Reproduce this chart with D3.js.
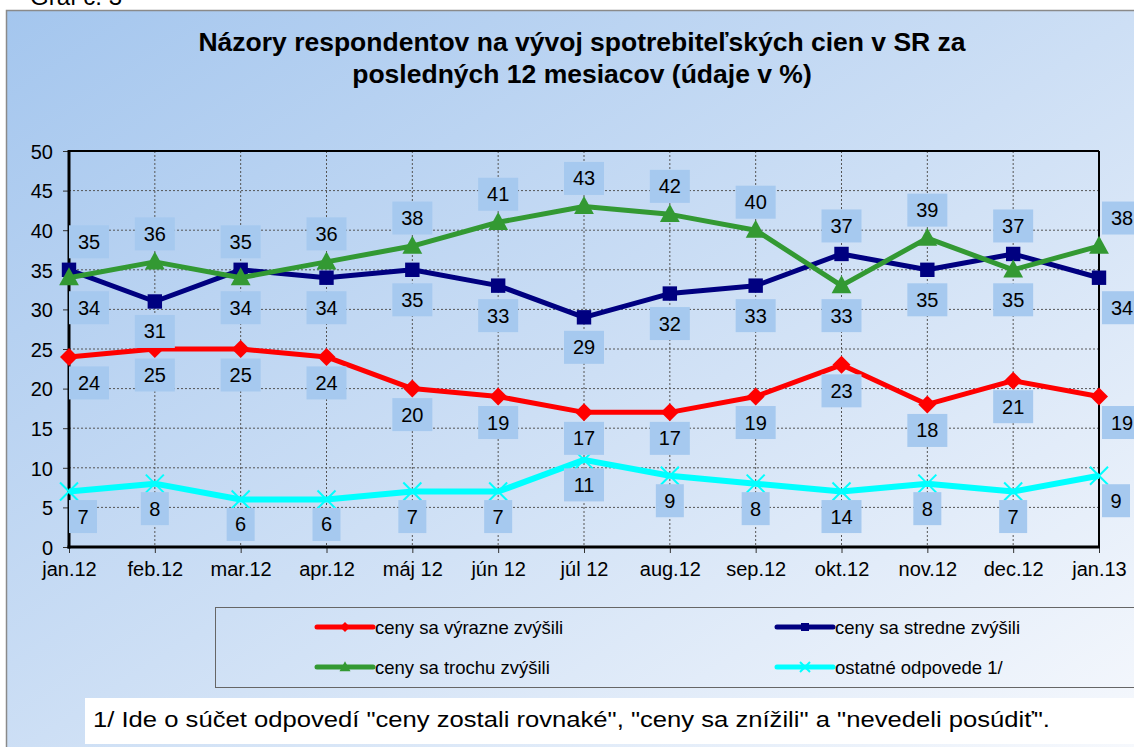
<!DOCTYPE html>
<html>
<head>
<meta charset="utf-8">
<script src="https://cdn.jsdelivr.net/npm/d3@7"></script>
<style>
  body { margin: 0; background: #fff; }
  svg { display: block; font-family: Arial, "Liberation Sans", sans-serif; }
</style>
</head>
<body>
<svg width="1134" height="747"></svg>
<script>
// mesiace na osi x
var months = ['jan.12', 'feb.12', 'mar.12', 'apr.12', 'máj 12', 'jún 12', 'júl 12',
              'aug.12', 'sep.12', 'okt.12', 'nov.12', 'dec.12', 'jan.13'];

// hodnoty bodov (podla polohy znaciek v grafe)
var vyrazne = [24, 25, 25, 24, 20, 19, 17, 17, 19, 23, 18, 21, 19];
var stredne = [35, 31, 35, 34, 35, 33, 29, 32, 33, 37, 35, 37, 34];
var trochu  = [34, 36, 34, 36, 38, 41, 43, 42, 40, 33, 39, 35, 38];
var ostatne = [7, 8, 6, 6, 7, 7, 11, 9, 8, 7, 8, 7, 9];

// popisky udajov tak, ako su v grafe
var vyrazneLabels = [24, 25, 25, 24, 20, 19, 17, 17, 19, 23, 18, 21, 19];
var strednePopisy = [34, 31, 34, 34, 35, 33, 29, 32, 33, 33, 35, 35, 34];
var trochuPopisy  = [35, 36, 35, 36, 38, 41, 43, 42, 40, 37, 39, 37, 38];
var ostatnePopisy = [7, 8, 6, 6, 7, 7, 11, 9, 8, 14, 8, 7, 9];

var yTicks = [0, 5, 10, 15, 20, 25, 30, 35, 40, 45, 50];

var seriesNames = ['ceny sa výrazne zvýšili', 'ceny sa stredne zvýšili',
                   'ceny sa trochu zvýšili', 'ostatné odpovede 1/'];

const svg = d3.select('svg');

// pozadie s prechodom
var defs = svg.append('defs');
var grad = defs.append('linearGradient')
  .attr('id', 'bg').attr('x1', '0%').attr('y1', '0%').attr('x2', '100%').attr('y2', '100%');
grad.append('stop').attr('offset', '0%').attr('stop-color', '#a4c6ee');
grad.append('stop').attr('offset', '50%').attr('stop-color', '#cddff5');
grad.append('stop').attr('offset', '100%').attr('stop-color', '#f7f9fd');

svg.append('text')
  .attr('x', 30).attr('y', 5)
  .style('font-size', '24px')
  .text('Graf č. 3');

svg.append('rect')
  .attr('x', 6.5).attr('y', 10.5)
  .attr('width', 1140).attr('height', 750)
  .attr('fill', 'url(#bg)')
  .attr('stroke', '#8a8a8a')
  .attr('stroke-width', 1.5);

// nadpis
var title = svg.append('text')
  .attr('text-anchor', 'middle')
  .style('font-size', '26.5px')
  .style('font-weight', 'bold');
title.append('tspan').attr('x', 582).attr('y', 51)
  .text('Názory respondentov na vývoj spotrebiteľských cien v SR za');
title.append('tspan').attr('x', 582).attr('y', 83)
  .text('posledných 12 mesiacov (údaje v %)');

var plotLeft = 69, plotRight = 1099, plotTop = 151, plotBottom = 547;

var x = d3.scalePoint().domain(months).range([plotLeft, plotRight]);
var y = d3.scaleLinear().domain([0, 50]).range([plotBottom, plotTop]);

// mriezka
var grid = svg.append('g').attr('class', 'grid');
grid.selectAll('line.h')
  .data(yTicks.filter(function(d) { return d > 0 && d < 50; }))
  .enter().append('line')
  .attr('x1', plotLeft).attr('x2', plotRight)
  .attr('y1', function(d) { return y(d); })
  .attr('y2', function(d) { return y(d); })
  .style('stroke', '#555')
  .style('stroke-width', 1)
  .style('stroke-dasharray', '2,2');
grid.selectAll('line.v')
  .data(months.slice(1, months.length - 1))
  .enter().append('line')
  .attr('x1', function(d) { return x(d); })
  .attr('x2', function(d) { return x(d); })
  .attr('y1', plotTop).attr('y2', plotBottom)
  .style('stroke', '#555')
  .style('stroke-width', 1)
  .style('stroke-dasharray', '2,2');

// osi
var yAxis = d3.axisLeft(y).tickValues(yTicks).tickSize(6).tickPadding(10);
var gy = svg.append('g').attr('transform', 'translate(' + plotLeft + ',0)').call(yAxis);
gy.select('.domain').remove();
gy.selectAll('.tick line').style('stroke', '#333');
gy.selectAll('.tick text').style('font-size', '20px').style('font-family', 'Arial, "Liberation Sans", sans-serif').attr('dy', '0.36em');

var xAxis = d3.axisBottom(x).tickSize(6).tickPadding(9);
var gx = svg.append('g').attr('transform', 'translate(0,' + plotBottom + ')').call(xAxis);
gx.select('.domain').remove();
gx.selectAll('.tick line').style('stroke', '#333');
gx.selectAll('.tick text').style('font-size', '20px').style('font-family', 'Arial, "Liberation Sans", sans-serif');

// ramik plochy grafu
svg.append('line').attr('x1', plotLeft).attr('x2', plotRight).attr('y1', plotTop).attr('y2', plotTop)
  .style('stroke', '#000').style('stroke-width', 2);
svg.append('line').attr('x1', plotRight).attr('x2', plotRight).attr('y1', plotTop).attr('y2', plotBottom)
  .style('stroke', '#000').style('stroke-width', 2);
svg.append('line').attr('x1', plotLeft).attr('x2', plotLeft).attr('y1', plotTop - 1).attr('y2', plotBottom + 1.5)
  .style('stroke', '#000').style('stroke-width', 3);
svg.append('line').attr('x1', plotLeft - 1.5).attr('x2', plotRight + 1).attr('y1', plotBottom).attr('y2', plotBottom)
  .style('stroke', '#000').style('stroke-width', 3);

var series = [
  { name: seriesNames[0], values: vyrazne, color: '#ff0000', width: 5, marker: 'diamond' },
  { name: seriesNames[1], values: stredne, color: '#000080', width: 5, marker: 'square' },
  { name: seriesNames[2], values: trochu,  color: '#339933', width: 5, marker: 'triangle' },
  { name: seriesNames[3], values: ostatne, color: '#00ffff', width: 6, marker: 'cross' }
];

function drawMarker(sel, type, color, s) {
  if (type === 'diamond') {
    sel.append('path').attr('d', 'M0,' + (-s) + 'L' + s + ',0L0,' + s + 'L' + (-s) + ',0Z')
      .attr('fill', color);
  } else if (type === 'square') {
    sel.append('rect').attr('x', -s * 0.8).attr('y', -s * 0.8)
      .attr('width', s * 1.6).attr('height', s * 1.6).attr('fill', color);
  } else if (type === 'triangle') {
    sel.append('path').attr('d', 'M0,' + (-s * 1.15) + 'L' + (s * 1.1) + ',' + (s * 0.85) + 'L' + (-s * 1.1) + ',' + (s * 0.85) + 'Z')
      .attr('fill', color);
  } else {
    sel.append('path').attr('d', 'M' + (-s) + ',' + (-s) + 'L' + s + ',' + s + 'M' + s + ',' + (-s) + 'L' + (-s) + ',' + s)
      .attr('stroke', color).attr('stroke-width', 2).attr('fill', 'none');
  }
}

var line = d3.line()
  .x(function(d, i) { return x(months[i]); })
  .y(function(d) { return y(d); });

series.forEach(function(s) {
  var g = svg.append('g');
  g.append('path')
    .datum(s.values)
    .attr('d', line)
    .attr('fill', 'none')
    .attr('stroke', s.color)
    .attr('stroke-width', s.width)
    .attr('stroke-linejoin', 'round');
  g.selectAll('g.marker')
    .data(s.values)
    .enter().append('g')
    .attr('transform', function(d, i) { return 'translate(' + x(months[i]) + ',' + y(d) + ')'; })
    .each(function() { drawMarker(d3.select(this), s.marker, s.color, 9); });
});

// popisky udajov
var labels = [];
months.forEach(function(m, i) {
  var hi = Math.max(trochu[i], stredne[i]);
  var lo = Math.min(trochu[i], stredne[i]);
  labels.push({ i: i, text: trochuPopisy[i], cy: y(hi) - 28 });
  labels.push({ i: i, text: strednePopisy[i], cy: y(lo) + 30 });
  labels.push({ i: i, text: vyrazneLabels[i], cy: y(vyrazne[i]) + 26 });
  labels.push({ i: i, text: ostatnePopisy[i], cy: y(ostatne[i]) + 25 });
});

var lab = svg.append('g').selectAll('g')
  .data(labels)
  .enter().append('g')
  .attr('transform', function(d) {
    var w = String(d.text).length > 1 ? 40 : 28;
    var cx = x(months[d.i]);
    if (d.i === 0) cx += w / 2;
    if (d.i === months.length - 1) cx += w / 2 + 3;
    return 'translate(' + cx + ',' + d.cy + ')';
  });
lab.append('rect')
  .attr('x', function(d) { return String(d.text).length > 1 ? -20 : -14; })
  .attr('y', -16.5)
  .attr('width', function(d) { return String(d.text).length > 1 ? 40 : 28; })
  .attr('height', 33)
  .attr('fill', '#a6c9ef');
lab.append('text')
  .attr('text-anchor', 'middle')
  .attr('y', 7)
  .style('font-size', '20px')
  .text(function(d) { return d.text; });

// legenda
svg.append('rect')
  .attr('x', 215.5).attr('y', 607.5)
  .attr('width', 940).attr('height', 80)
  .attr('fill', 'none')
  .attr('stroke', '#666')
  .attr('stroke-width', 1);

var legendPos = [[317, 627], [777, 627], [317, 667], [777, 667]];
series.forEach(function(s, k) {
  var p = legendPos[k];
  var lg = svg.append('g').attr('transform', 'translate(' + p[0] + ',' + p[1] + ')');
  lg.append('line').attr('x1', 0).attr('x2', 56).attr('y1', 0).attr('y2', 0)
    .attr('stroke', s.color).attr('stroke-width', 5).attr('stroke-linecap', 'round');
  var mk = lg.append('g').attr('transform', 'translate(28,0)');
  drawMarker(mk, s.marker, s.color, 5);
  lg.append('text')
    .attr('x', 58).attr('y', 7)
    .style('font-size', '18.5px')
    .text(s.name);
});

// poznamka
svg.append('rect')
  .attr('x', 85).attr('y', 698)
  .attr('width', 1060).attr('height', 46)
  .attr('fill', '#fff');
svg.append('text')
  .attr('x', 93).attr('y', 727)
  .attr('textLength', 957)
  .attr('lengthAdjust', 'spacingAndGlyphs')
  .style('font-size', '22px')
  .text('1/ Ide o súčet odpovedí "ceny zostali rovnaké", "ceny sa znížili" a "nevedeli posúdiť".');
</script>
</body>
</html>
